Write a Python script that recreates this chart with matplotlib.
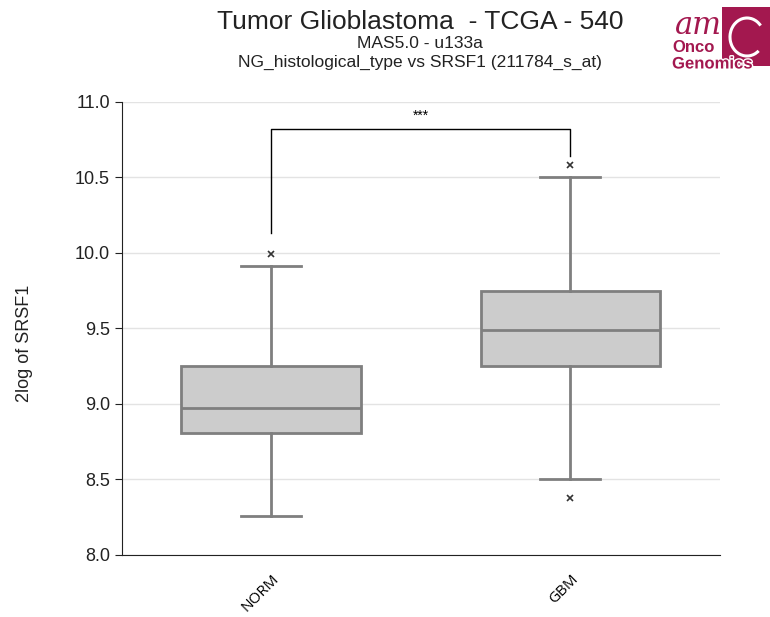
import numpy as np
import matplotlib.pyplot as plt
from matplotlib.patches import Rectangle, Arc
import matplotlib.patheffects as pe

plt.rcParams['font.family'] = ['Liberation Sans', 'DejaVu Sans']

groups = ["NORM", "GBM"]
med = [8.97, 9.49]
q1 = [8.81, 9.25]
q3 = [9.25, 9.75]
whislo = [8.26, 8.50]
whishi = [9.91, 10.50]
fliers = [[9.99], [10.58, 8.38]]
bracket_y = 10.82
bracket_legs = [10.13, 10.64]
signif = "***"

stats = []
for i in range(len(groups)):
    stats.append(dict(label=groups[i], med=med[i], q1=q1[i], q3=q3[i],
                      whislo=whislo[i], whishi=whishi[i], fliers=fliers[i]))

fig = plt.figure(figsize=(7.7, 6.17), dpi=100)
ax = fig.add_axes([0.158, 0.1005, 0.777, 0.7345])

gray = "#7f7f7f"
ax.bxp(stats, positions=range(len(groups)), widths=0.6, patch_artist=True,
       boxprops=dict(facecolor="#cccccc", edgecolor=gray, linewidth=2),
       medianprops=dict(color=gray, linewidth=2),
       whiskerprops=dict(color=gray, linewidth=2),
       capprops=dict(color=gray, linewidth=2),
       capwidths=0.2,
       flierprops=dict(marker="x", markersize=5, markeredgecolor="#333333",
                       markeredgewidth=1.2))

ax.set_xlim(-0.5, 1.5)
ax.set_ylim(8.0, 11.0)
ax.set_yticks(np.arange(8.0, 11.01, 0.5))
ax.set_yticklabels(["%.1f" % v for v in np.arange(8.0, 11.01, 0.5)], fontsize=13, color="#222222")
ax.set_xticks(range(len(groups)))
ax.set_xticklabels(groups, rotation=45, fontsize=11, family=["Open Sans", "DejaVu Sans"],
                   ha="right", rotation_mode="anchor")
ax.tick_params(axis="x", length=0, pad=12)
ax.tick_params(axis="y", length=5, color="#222222")
ax.yaxis.grid(True, color="#e3e3e3", linewidth=1)
ax.set_axisbelow(True)
for s in ["top", "right"]:
    ax.spines[s].set_visible(False)
ax.spines["left"].set_color("#222222")
ax.spines["bottom"].set_color("#222222")
ax.set_ylabel("2log of SRSF1", fontsize=13, color="#222222")
ax.yaxis.set_label_coords(-0.149, 0.468)

# significance bracket
ax.plot([0, 0, 1, 1], [bracket_legs[0], bracket_y, bracket_y, bracket_legs[1]],
        color="black", linewidth=1)
ax.text(0.5, bracket_y + 0.04, signif, ha="center", va="bottom", fontsize=10)

fig.text(0.546, 0.964, "Tumor Glioblastoma  - TCGA - 540", ha="center", va="center",
         fontsize=19, color="#222222")
fig.text(0.546, 0.930, "MAS5.0 - u133a", ha="center", va="center", fontsize=12.5, color="#222222")
fig.text(0.546, 0.899, "NG_histological_type vs SRSF1 (211784_s_at)", ha="center",
         va="center", fontsize=12.5, color="#222222")

# logo, in pixel units of the top-right corner
logo = "#a3184f"
lax = fig.add_axes([640 / 770, 1 - 80 / 617, 130 / 770, 80 / 617])
lax.set_xlim(640, 770)
lax.set_ylim(80, 0)
lax.axis("off")
lax.add_patch(Rectangle((722, 7), 50, 59, facecolor=logo, edgecolor="none", zorder=1))
lax.add_patch(Arc((747, 37), 34, 38, theta1=50, theta2=320, color="white",
                  linewidth=2.2, zorder=2))
lax.text(698, 25, "am", fontsize=22, family="DejaVu Serif", style="italic",
         color=logo, ha="center", va="center", zorder=3)
lax.text(672, 47, "Onco", fontsize=12, weight="bold", color=logo, ha="left",
         va="center", zorder=3)
lax.text(672, 64, "Genomics", fontsize=12, weight="bold", color=logo, ha="left",
         va="center", zorder=3,
         path_effects=[pe.withStroke(linewidth=2, foreground="white")])

fig.savefig("out.png", dpi=100)
